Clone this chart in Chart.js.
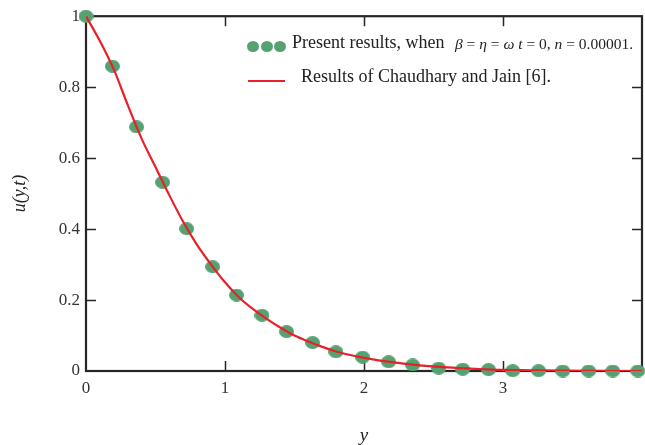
<!DOCTYPE html>
<html>
<head>
<meta charset="utf-8">
<title>u(y,t) profile</title>
<script src="https://cdn.jsdelivr.net/npm/chart.js@4.4.1/dist/chart.umd.min.js"></script>
<style>
  html, body { margin: 0; padding: 0; background: #fff; }
  #wrap { position: relative; width: 645px; height: 445px; overflow: hidden; }
  #wrap canvas { display: block; }
  .key { position: absolute; font-family: "Liberation Serif", "Times New Roman", serif; font-size: 18px; line-height: 18px; color: #222; white-space: nowrap; }
  .key .math { font-size: 15.5px; position: relative; top: 1px; }
  .dot { position: absolute; width: 12px; height: 11px; border-radius: 50%; background: #55a171; }
  .redline { position: absolute; height: 2px; background: #e8202a; }
</style>
</head>
<body>
<div id="wrap">
  <canvas id="profileChart" width="645" height="445"></canvas>

  <span class="dot" style="left:247px;top:41px"></span>
  <span class="dot" style="left:261px;top:41px"></span>
  <span class="dot" style="left:274px;top:41px"></span>
  <div class="key" style="left:292px;top:33px">Present results, when <span class="math" style="margin-left:6px"><i>β</i> = <i>η</i> = <i>ω</i> <i>t</i> = 0, <i>n</i> = 0.00001.</span></div>

  <span class="redline" style="left:248px;top:80px;width:37px"></span>
  <div class="key" style="left:301px;top:67px">Results of Chaudhary and Jain [6].</div>
</div>

<script>
// present results, plotted as dots
const presentX = [0, 0.19, 0.364, 0.551, 0.724, 0.911, 1.083, 1.266, 1.443, 1.63, 1.798, 1.99,
                  2.177, 2.35, 2.537, 2.71, 2.896, 3.07, 3.256, 3.43, 3.616, 3.79, 3.97];
const presentU = [1.0, 0.859, 0.688, 0.532, 0.401, 0.294, 0.214, 0.157, 0.111, 0.080, 0.054, 0.039,
                  0.026, 0.017, 0.008, 0.005, 0.004, 0.001, 0.001, 0, 0, 0, 0];

// Chaudhary and Jain curve
const refX = [0, 0.1, 0.2, 0.3, 0.4, 0.5, 0.6, 0.7, 0.8, 0.9, 1.0, 1.1, 1.2, 1.3, 1.4, 1.5, 1.6, 1.7, 1.8, 1.9,
              2.0, 2.2, 2.4, 2.6, 2.8, 3.0, 3.2, 3.4, 3.6, 3.8, 4.0];
const refU = [1.0, 0.93, 0.85, 0.75, 0.655, 0.575, 0.495, 0.42, 0.355, 0.30, 0.25, 0.208, 0.175, 0.147, 0.122,
              0.100, 0.083, 0.068, 0.055, 0.045, 0.037, 0.025, 0.016, 0.010, 0.006, 0.003, 0.002, 0.001, 0.0005, 0, 0];

const xTickValues = [0, 1, 2, 3];
const yTickValues = [0, 0.2, 0.4, 0.6, 0.8, 1];

const axisColor = '#262626';
const dotColor = '#55a171';
const lineColor = '#e8202a';

// slightly flattened dot used as the point marker
function makeDot(w, h, color) {
  const c = document.createElement('canvas');
  c.width = w; c.height = h;
  const g = c.getContext('2d');
  g.fillStyle = color;
  g.beginPath();
  g.ellipse(w / 2, h / 2, w / 2, h / 2, 0, 0, Math.PI * 2);
  g.fill();
  return c;
}

// box round the plot with short inward tick marks on all four sides
const frameTicks = {
  id: 'frameTicks',
  beforeDatasetsDraw(chart) {
    const { ctx, chartArea: a, scales: { x, y } } = chart;
    const len = 10;
    ctx.save();
    ctx.strokeStyle = axisColor;
    ctx.lineWidth = 1.5;
    ctx.beginPath();
    x.ticks.forEach(t => {
      if (t.value <= x.min || t.value >= x.max) return;
      const px = Math.round(x.getPixelForValue(t.value)) + 0.5;
      ctx.moveTo(px, a.bottom); ctx.lineTo(px, a.bottom - len);
      ctx.moveTo(px, a.top); ctx.lineTo(px, a.top + len);
    });
    y.ticks.forEach(t => {
      if (t.value <= y.min || t.value >= y.max) return;
      const py = Math.round(y.getPixelForValue(t.value)) + 0.5;
      ctx.moveTo(a.left, py); ctx.lineTo(a.left + len, py);
      ctx.moveTo(a.right, py); ctx.lineTo(a.right - len, py);
    });
    ctx.stroke();
    ctx.lineWidth = 2.2;
    ctx.strokeRect(a.left, a.top, a.right - a.left, a.bottom - a.top);
    ctx.restore();
  }
};

const serif = '"Liberation Serif", "Times New Roman", serif';

new Chart(document.getElementById('profileChart'), {
  type: 'scatter',
  data: {
    datasets: [
      {
        label: 'Results of Chaudhary and Jain [6].',
        data: refX.map((v, i) => ({ x: v, y: refU[i] })),
        showLine: true,
        borderColor: lineColor,
        borderWidth: 2.2,
        pointRadius: 0,
        cubicInterpolationMode: 'monotone',
        order: 0
      },
      {
        label: 'Present results',
        data: presentX.map((v, i) => ({ x: v, y: presentU[i] })),
        pointStyle: makeDot(15, 13, dotColor),
        pointRadius: 8,
        clip: false,
        order: 1
      }
    ]
  },
  options: {
    responsive: false,
    animation: false,
    layout: { autoPadding: false, padding: { top: 15, right: 3, left: 0, bottom: 0 } },
    plugins: { legend: { display: false }, tooltip: { enabled: false } },
    scales: {
      x: {
        type: 'linear',
        min: 0, max: 4,
        afterBuildTicks: s => { s.ticks = xTickValues.map(v => ({ value: v })); },
        afterFit: s => { s.height = 74; },
        grid: { display: false, drawTicks: false },
        border: { display: false },
        ticks: { padding: 7, color: '#333', font: { family: serif, size: 17 }, callback: v => String(v) },
        title: {
          display: true, text: 'y', color: '#222',
          font: { family: serif, size: 19, style: 'italic', lineHeight: 1.0 },
          padding: { top: 0, bottom: 0 }
        }
      },
      y: {
        type: 'linear',
        min: 0, max: 1,
        afterBuildTicks: s => { s.ticks = yTickValues.map(v => ({ value: v })); },
        afterFit: s => { s.width = 86; },
        grid: { display: false, drawTicks: false },
        border: { display: false },
        ticks: { padding: 6, color: '#333', font: { family: serif, size: 17 }, callback: v => String(v) },
        title: {
          display: true, text: 'u(y,t)', color: '#222',
          font: { family: serif, size: 18, style: 'italic' },
          padding: { top: 9, bottom: 0 }
        }
      }
    }
  },
  plugins: [frameTicks]
});
</script>
</body>
</html>
